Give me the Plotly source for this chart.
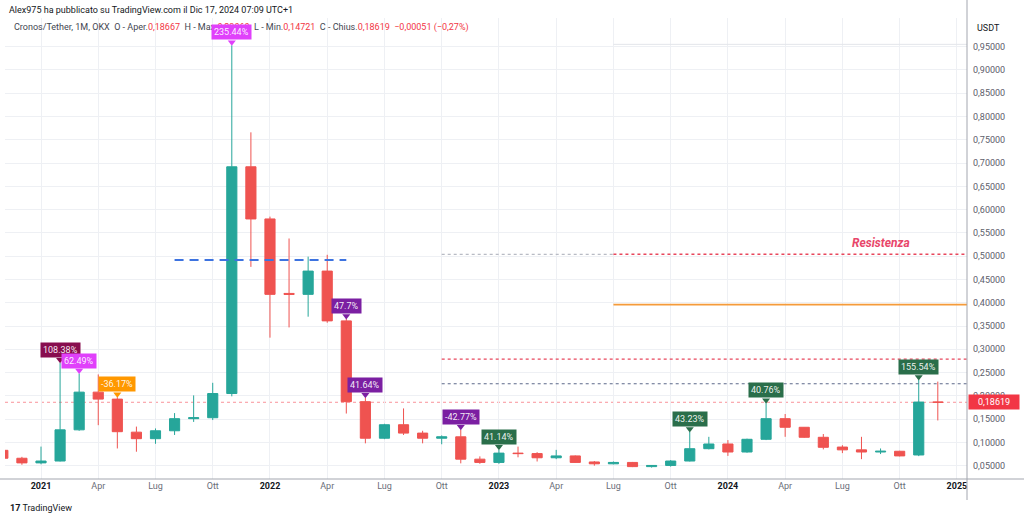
import plotly.graph_objects as go

# ---------------- data ----------------
months = ["2020-11", "2020-12",
          "2021-01", "2021-02", "2021-03", "2021-04", "2021-05", "2021-06",
          "2021-07", "2021-08", "2021-09", "2021-10", "2021-11", "2021-12",
          "2022-01", "2022-02", "2022-03", "2022-04", "2022-05", "2022-06",
          "2022-07", "2022-08", "2022-09", "2022-10", "2022-11", "2022-12",
          "2023-01", "2023-02", "2023-03", "2023-04", "2023-05", "2023-06",
          "2023-07", "2023-08", "2023-09", "2023-10", "2023-11", "2023-12",
          "2024-01", "2024-02", "2024-03", "2024-04", "2024-05", "2024-06",
          "2024-07", "2024-08", "2024-09", "2024-10", "2024-11", "2024-12"]

opens = [0.083, 0.066,
         0.056, 0.060, 0.127, 0.208, 0.193, 0.122,
         0.108, 0.125, 0.151, 0.153, 0.205, 0.692,
         0.580, 0.420, 0.418, 0.468, 0.361, 0.1875,
         0.109, 0.138, 0.120, 0.109, 0.112, 0.064,
         0.057, 0.077, 0.076, 0.067, 0.071, 0.058,
         0.054, 0.057, 0.048, 0.0505, 0.060, 0.0865,
         0.0966, 0.0794, 0.1067, 0.151, 0.1325, 0.111,
         0.090, 0.084, 0.0794, 0.081, 0.0730, 0.18667]

highs = [0.086, 0.069,
         0.091, 0.271, 0.248, 0.246, 0.197, 0.134,
         0.130, 0.163, 0.201, 0.228, 0.953, 0.766,
         0.585, 0.538, 0.499, 0.503, 0.365, 0.196,
         0.140, 0.173, 0.125, 0.115, 0.127, 0.070,
         0.084, 0.091, 0.079, 0.084, 0.072, 0.060,
         0.059, 0.058, 0.051, 0.062, 0.1225, 0.112,
         0.105, 0.108, 0.184, 0.161, 0.133, 0.118,
         0.094, 0.112, 0.087, 0.082, 0.234, 0.2306]

lows = [0.064, 0.052,
        0.053, 0.059, 0.125, 0.137, 0.087, 0.080,
        0.097, 0.116, 0.144, 0.148, 0.199, 0.477,
        0.325, 0.347, 0.370, 0.357, 0.162, 0.098,
        0.107, 0.116, 0.098, 0.096, 0.055, 0.054,
        0.054, 0.068, 0.059, 0.064, 0.056, 0.050,
        0.053, 0.047, 0.046, 0.048, 0.059, 0.085,
        0.071, 0.078, 0.105, 0.112, 0.110, 0.085,
        0.077, 0.064, 0.075, 0.070, 0.0705, 0.14721]

closes = [0.066, 0.056,
          0.060, 0.127, 0.208, 0.193, 0.123, 0.108,
          0.125, 0.151, 0.153, 0.205, 0.692, 0.580,
          0.418, 0.418, 0.468, 0.361, 0.1875, 0.109,
          0.138, 0.120, 0.109, 0.112, 0.064, 0.057,
          0.077, 0.076, 0.067, 0.071, 0.057, 0.054,
          0.057, 0.048, 0.0505, 0.060, 0.0865, 0.0966,
          0.0794, 0.1067, 0.151, 0.1325, 0.111, 0.0895,
          0.084, 0.0794, 0.081, 0.071, 0.18667, 0.18619]

tick_months = ["2021-01", "2021-04", "2021-07", "2021-10",
               "2022-01", "2022-04", "2022-07", "2022-10",
               "2023-01", "2023-04", "2023-07", "2023-10",
               "2024-01", "2024-04", "2024-07", "2024-10", "2025-01"]
tick_labels = ["2021", "Apr", "Lug", "Ott", "2022", "Apr", "Lug", "Ott",
               "2023", "Apr", "Lug", "Ott", "2024", "Apr", "Lug", "Ott", "2025"]

y_ticks = [0.05, 0.10, 0.15, 0.20, 0.25, 0.30, 0.35, 0.40, 0.45, 0.50,
           0.55, 0.60, 0.65, 0.70, 0.75, 0.80, 0.85, 0.90, 0.95]

label_months = ["2021-02", "2021-03", "2021-05", "2021-11", "2022-05", "2022-06",
                "2022-11", "2023-01", "2023-11", "2024-03", "2024-11"]
label_texts = ["108.38%", "62.49%", "-36.17%", "235.44%", "47.7%", "41.64%",
               "-42.77%", "41.14%", "43.23%", "40.76%", "155.54%"]
label_colors = ["#880E4F", "#E040FB", "#FF9800", "#E040FB", "#7B1FA2", "#7B1FA2",
                "#7B1FA2", "#2A6E4A", "#2A6E4A", "#2A6E4A", "#2A6E4A"]

blue_dash_level = 0.492
blue_dash_span = ("2021-08", "2022-05")
resist_level = 0.504
orange_level = 0.396
red_dot_level = 0.279
blue_dot_level = 0.226
top_line_level = 0.955
last_price = 0.18619

# ---------------- layout geometry ----------------
W, H = 1024, 521
ML, MR, MT, MB = 5, 57, 18, 42
PW, PH = W - ML - MR, H - MT - MB
X_RANGE = [0.113, 50.53]
Y_RANGE = [0.0214, 1.0116]
PPU = PH / (Y_RANGE[1] - Y_RANGE[0])  # pixels per price unit


def mi(m):
    y, mo = map(int, m.split("-"))
    return (y - 2020) * 12 + mo - 11


def px_x(px):
    return (px - ML) / PW


def px_y(py):
    return (H - MB - py) / PH


xs = [mi(m) for m in months]
FONT = "Roboto, Liberation Sans, Arial"

fig = go.Figure()
fig.add_trace(go.Candlestick(
    x=xs, open=opens, high=highs, low=lows, close=closes,
    increasing=dict(line=dict(color="#26A69A", width=1), fillcolor="#26A69A"),
    decreasing=dict(line=dict(color="#EF5350", width=1), fillcolor="#EF5350"),
    whiskerwidth=0, hoverinfo="skip", showlegend=False,
))

# pointer triangles of the labels
lab_x = [mi(m) for m in label_months]
lab_hi = [highs[months.index(m)] for m in label_months]
fig.add_trace(go.Scatter(
    x=lab_x, y=[h + 3.0 / PPU for h in lab_hi], mode="markers",
    marker=dict(symbol="triangle-down", size=7, color=label_colors, line=dict(width=0)),
    hoverinfo="skip", showlegend=False,
))

shapes = []
xmax = X_RANGE[1]
# current price line
shapes.append(dict(type="line", xref="paper", yref="y", x0=0, x1=1, y0=last_price, y1=last_price,
                   line=dict(color="rgba(242,54,69,0.55)", width=1, dash="dot"), layer="below"))
# blue dashed
shapes.append(dict(type="line", xref="x", yref="y", x0=mi(blue_dash_span[0]), x1=mi(blue_dash_span[1]),
                   y0=blue_dash_level, y1=blue_dash_level,
                   line=dict(color="#3D73E0", width=2, dash="9px,6px")))
# resistance (grey part then red part)
shapes.append(dict(type="line", xref="x", yref="y", x0=mi("2022-10"), x1=mi("2023-07"),
                   y0=resist_level, y1=resist_level, line=dict(color="#B8BBC4", width=1.2, dash="dot")))
shapes.append(dict(type="line", xref="x", yref="y", x0=mi("2023-07"), x1=xmax,
                   y0=resist_level, y1=resist_level, line=dict(color="#E8475C", width=1.6, dash="dot")))
shapes.append(dict(type="line", xref="x", yref="y", x0=mi("2023-07"), x1=xmax,
                   y0=orange_level, y1=orange_level, line=dict(color="#F59B3A", width=1.6)))
shapes.append(dict(type="line", xref="x", yref="y", x0=mi("2022-10"), x1=xmax,
                   y0=red_dot_level, y1=red_dot_level, line=dict(color="#E8475C", width=1.2, dash="dot")))
shapes.append(dict(type="line", xref="x", yref="y", x0=mi("2022-10"), x1=xmax,
                   y0=blue_dot_level, y1=blue_dot_level, line=dict(color="#5D6A8A", width=1.2, dash="dot")))
shapes.append(dict(type="line", xref="x", yref="y", x0=mi("2023-07"), x1=xmax,
                   y0=top_line_level, y1=top_line_level, line=dict(color="#E3E5EA", width=1)))
# right scale separator and bottom line extension
shapes.append(dict(type="line", xref="paper", yref="paper", x0=1, x1=1, y0=px_y(500), y1=px_y(0),
                   line=dict(color="#A3A6AF", width=1)))
shapes.append(dict(type="line", xref="paper", yref="paper", x0=px_x(0), x1=px_x(1024), y0=0, y1=0,
                   line=dict(color="#A3A6AF", width=1)))

annotations = []
# header
annotations.append(dict(xref="paper", yref="paper", x=px_x(7), y=px_y(10), xanchor="left", yanchor="middle",
                        showarrow=False, font=dict(size=9, color="#131722", family=FONT),
                        text="Alex975 ha pubblicato su TradingView.com il Dic 17, 2024 07:09 UTC+1"))
red = "#F23645"
hdr = ("Cronos/Tether, 1M, OKX\u00a0\u00a0O - Aper.<span style='color:%s'>0,18667</span>\u00a0\u00a0"
       "H - Max.<span style='color:%s'>0,23060</span>\u00a0\u00a0L - Min.<span style='color:%s'>0,14721</span>"
       "\u00a0\u00a0C - Chius.<span style='color:%s'>0,18619\u00a0\u00a0−0,00051 (−0,27%%)</span>") % (red, red, red, red)
annotations.append(dict(xref="paper", yref="paper", x=px_x(12), y=px_y(28), xanchor="left", yanchor="middle",
                        showarrow=False, font=dict(size=9, color="#434651", family=FONT), text=hdr))
annotations.append(dict(xref="paper", yref="paper", x=px_x(975), y=px_y(28), xanchor="left", yanchor="middle",
                        showarrow=False, font=dict(size=9, color="#131722", family=FONT), text="USDT"))
# footer
annotations.append(dict(xref="paper", yref="paper", x=px_x(8), y=px_y(508), xanchor="left", yanchor="middle",
                        showarrow=False, font=dict(size=9, color="#131722", family=FONT),
                        text="<b>17</b> TradingView"))
# Resistenza
annotations.append(dict(xref="x", yref="y", x=mi("2024-09"), y=resist_level, yshift=11,
                        xanchor="center", yanchor="middle", showarrow=False,
                        font=dict(size=12, color="#E8466A", family=FONT), text="<b><i>Resistenza</i></b>"))
# percent labels
for m, t, c, h in zip(label_months, label_texts, label_colors, lab_hi):
    annotations.append(dict(xref="x", yref="y", x=mi(m), y=h, yshift=5, xanchor="center", yanchor="bottom",
                            showarrow=False, text=t, bgcolor=c, borderpad=2,
                            font=dict(size=9, color="rgba(255,255,255,0.92)", family=FONT)))
# price tag on the scale
annotations.append(dict(xref="paper", yref="y", x=1, y=last_price, xshift=1, xanchor="left", yanchor="middle",
                        showarrow=False, text="0,18619", bgcolor=red, width=48, height=12,
                        font=dict(size=9, color="white", family=FONT)))

tick_text = [("<b><span style='color:#131722'>%s</span></b>" % t) if t.isdigit()
             else ("<span style='color:#6A6D78'>%s</span>" % t) for t in tick_labels]

fig.update_layout(
    width=W, height=H, margin=dict(l=ML, r=MR, t=MT, b=MB),
    paper_bgcolor="white", plot_bgcolor="white",
    separators=",.", boxgap=0.24,
    font=dict(family=FONT, size=9, color="#131722"),
    shapes=shapes, annotations=annotations, hovermode=False,
    xaxis=dict(range=X_RANGE, tickvals=[mi(m) for m in tick_months], ticktext=tick_text,
               showgrid=True, gridcolor="#EEF0F4", gridwidth=1, zeroline=False,
               showline=False, ticks="", tickfont=dict(size=9, family=FONT),
               rangeslider=dict(visible=False), fixedrange=True),
    yaxis=dict(range=Y_RANGE, side="right", tickvals=y_ticks, tickformat=".5f",
               showgrid=True, gridcolor="#EEF0F4", gridwidth=1, zeroline=False,
               showline=False, ticks="", ticklabelstandoff=5,
               tickfont=dict(size=9, color="#5D606B", family=FONT), fixedrange=True),
)

fig.write_html("out.html")
